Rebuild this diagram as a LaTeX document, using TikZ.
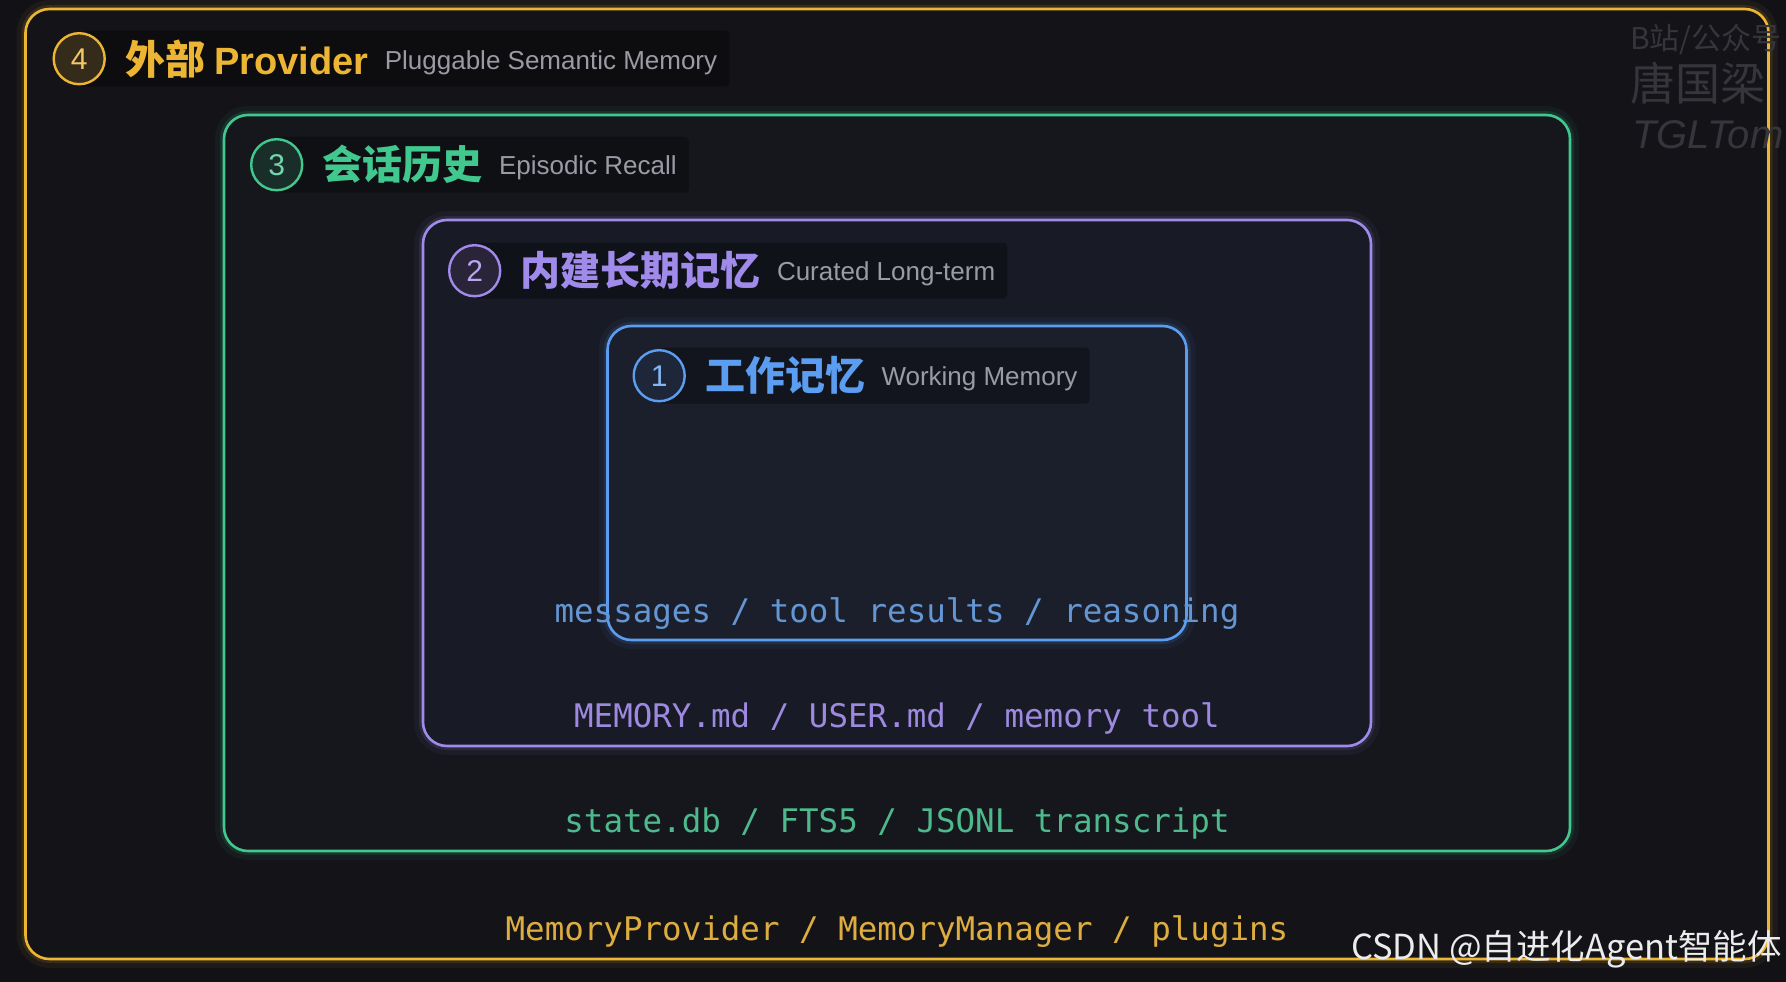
\documentclass[tikz,border=0pt]{standalone}
\usepackage{fontspec}
\setmainfont{Liberation Sans}
\setmonofont{DejaVu Sans Mono}
\newfontfamily\cjk{Noto Sans CJK SC}
\usetikzlibrary{positioning}
\usetikzlibrary{calc}
\usetikzlibrary{backgrounds}

\pgfdeclarelayer{band}
\pgfsetlayers{background,band,main}

\definecolor{pagebg}{HTML}{121116}
\definecolor{fillfour}{HTML}{141318}
\definecolor{fillthree}{HTML}{15171C}
\definecolor{filltwo}{HTML}{181A25}
\definecolor{fillone}{HTML}{1B1F2C}
\definecolor{amber}{HTML}{EDB534}
\definecolor{mint}{HTML}{41C88F}
\definecolor{lilac}{HTML}{A08AEA}
\definecolor{skyblue}{HTML}{5B9DF0}
\definecolor{subgray}{HTML}{9B9AA5}
\definecolor{wmgray}{HTML}{36353B}

\tikzset{
    layer/.style={draw=#1, line width=2.6pt, rounded corners=24pt,
        inner sep=0pt,
        preaction={draw=#1, draw opacity=.06, line width=18pt},
        preaction={draw=#1, draw opacity=.12, line width=8pt}},
    badge/.style={circle, draw=#1, line width=2.4pt, fill=#1!16!pagebg,
        minimum size=51pt, inner sep=0pt, text=#1!75!white,
        font=\fontsize{30}{30}\selectfont},
    heading/.style={text=#1, inner sep=0pt,
        font=\cjk\bfseries\fontsize{40}{40}\selectfont},
    subhead/.style={text=subgray, inner sep=0pt, anchor=base west,
        font=\fontsize{26}{26}\selectfont},
    payload/.style={text=#1, inner sep=0pt,
        font=\ttfamily\fontsize{32.5}{32.5}\selectfont},
    watermark/.style={text=wmgray, inner sep=0pt, anchor=north west},
}

\begin{document}
\begin{tikzpicture}[x=1pt, y=-1pt]
    \useasboundingbox (0,0) rectangle (1786,982);

    % nested layers, outermost first
    \begin{pgfonlayer}{background}
    \fill[pagebg] (0,0) rectangle (1786,982);
    \node[layer=amber, fill=fillfour, minimum width=1743pt, minimum height=950pt] (L4) at (897,484) {};
    \node[layer=mint, fill=fillthree, minimum width=1346pt, minimum height=736pt] (L3) at (897,483) {};
    \node[layer=lilac, fill=filltwo, minimum width=948pt, minimum height=526pt] (L2) at (897,483) {};
    \node[layer=skyblue, fill=fillone, minimum width=579pt, minimum height=314pt] (L1) at (897,483) {};
    \end{pgfonlayer}

    % faint watermark, top right
    \begin{pgfonlayer}{band}
    \begin{scope}
    \clip (0,0) rectangle (1786,982);
    \node[watermark, font=\cjk\fontsize{30}{30}\selectfont] (wm1) at (1630,24) {B站/公众号};
    \node[watermark, font=\cjk\fontsize{45}{45}\selectfont] (wm2) at (1630,62) {唐国梁};
    \node[watermark, font=\itshape\fontsize{40}{40}\selectfont] (wm3) at (1632,120) {TGLTom};
    \end{scope}
    \end{pgfonlayer}

    % headings
    \node[badge=amber] (b4) at ([xshift=55pt,yshift=-51pt]L4.north west) {4};
    \node[heading=amber, right=19pt of b4] (h4) {外部 {\rmfamily\bfseries\fontsize{38}{38}\selectfont Provider}};
    \node[subhead] (s4) at ([xshift=16pt,yshift=5pt]h4.base east) {Pluggable Semantic Memory};

    \node[badge=mint] (b3) at ([xshift=54pt,yshift=-51pt]L3.north west) {3};
    \node[heading=mint, right=19pt of b3] (h3) {会话历史};
    \node[subhead] (s3) at ([xshift=16pt,yshift=5pt]h3.base east) {Episodic Recall};

    \node[badge=lilac] (b2) at ([xshift=53pt,yshift=-52pt]L2.north west) {2};
    \node[heading=lilac, right=19pt of b2] (h2) {内建长期记忆};
    \node[subhead] (s2) at ([xshift=16pt,yshift=5pt]h2.base east) {Curated Long-term};

    \node[badge=skyblue] (b1) at ([xshift=53pt,yshift=-51pt]L1.north west) {1};
    \node[heading=skyblue, right=19pt of b1] (h1) {工作记忆};
    \node[subhead] (s1) at ([xshift=16pt,yshift=5pt]h1.base east) {Working Memory};

    % dark bands behind the headings
    \begin{pgfonlayer}{band}
    \foreach \k in {1,...,4} {
        \fill[black, fill opacity=.3, rounded corners=4pt]
            ($(b\k.center)+(0,-28)$) rectangle ($(s\k.east |- b\k.center)+(12,28)$);
    }
    \end{pgfonlayer}

    % contents of each layer
    \node[payload=skyblue!75!gray] (p1) at ([yshift=28pt]L1.south) {messages / tool results / reasoning};
    \node[payload=lilac!90!gray] (p2) at ([yshift=29pt]L2.south) {MEMORY.md / USER.md / memory tool};
    \node[payload=mint!80!gray] (p3) at ([yshift=29pt]L3.south) {state.db / FTS5 / JSONL transcript};
    \node[payload=amber!85!gray] (p4) at ([yshift=29pt]L4.south) {MemoryProvider / MemoryManager / plugins};

    % watermark, bottom right
    \node[text=white!85!gray, inner sep=0pt, anchor=east, font=\cjk\fontsize{34.5}{34.5}\selectfont] (wm4) at (1782,949) {CSDN @自进化Agent智能体};
\end{tikzpicture}
\end{document}
